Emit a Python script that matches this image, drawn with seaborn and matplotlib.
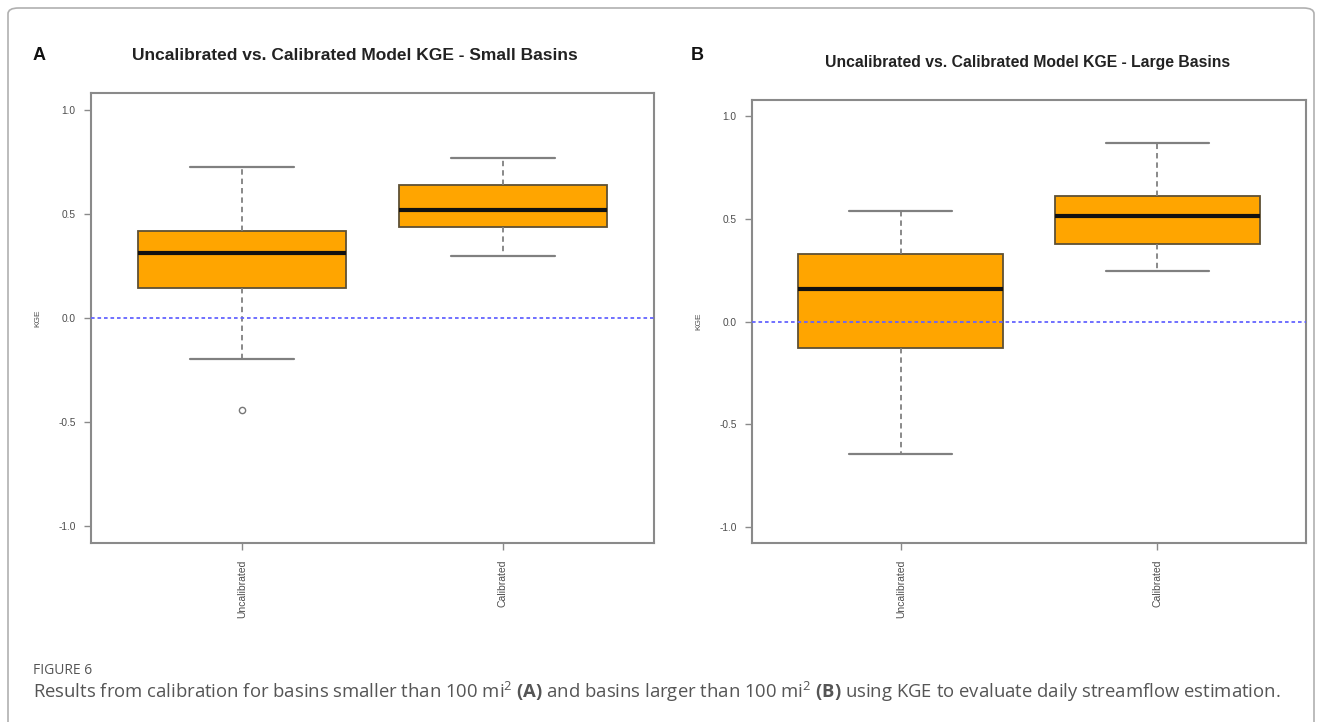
import numpy as np
import pandas as pd
import seaborn as sns
import matplotlib.pyplot as plt
from matplotlib.patches import FancyBboxPatch

# ---- data -----------------------------------------------------------------
groups = ["Uncalibrated", "Calibrated"]

# five-number summaries: lower whisker, Q1, median, Q3, upper whisker
small_uncal = [-0.199, 0.143, 0.311, 0.418, 0.727]
small_cal = [0.298, 0.436, 0.519, 0.639, 0.768]
small_outliers = [-0.442]          # Uncalibrated, small basins

large_uncal = [-0.647, -0.129, 0.160, 0.328, 0.538]
large_cal = [0.244, 0.380, 0.513, 0.613, 0.872]
large_outliers = []

yticks = [-1.0, -0.5, 0.0, 0.5, 1.0]
ytick_labels = ["-1.0", "-0.5", "0.0", "0.5", "1.0"]

titles = ["Uncalibrated vs. Calibrated Model KGE - Small Basins",
          "Uncalibrated vs. Calibrated Model KGE - Large Basins"]
panel_letters = ["A", "B"]

# ---- style ----------------------------------------------------------------
sns.set_theme(style="white")
plt.rcParams["font.family"] = ["Liberation Sans", "DejaVu Sans"]
plt.rcParams["mathtext.fontset"] = "custom"
plt.rcParams["mathtext.rm"] = "Open Sans"
plt.rcParams["mathtext.bf"] = "Open Sans:bold"

ORANGE = "#FFA500"
GRID_GRAY = "#8a8a8a"
TEXT_GRAY = "#4d4d4d"

W, H = 1322, 722
fig = plt.figure(figsize=(W / 100, H / 100), dpi=100)


def frac_box(left, top, right, bottom):
    return [left / W, 1 - bottom / H, (right - left) / W, (bottom - top) / H]


def long_frame(uncal, cal):
    return pd.DataFrame({
        "group": [groups[0]] * len(uncal) + [groups[1]] * len(cal),
        "KGE": list(uncal) + list(cal),
    })


def draw_panel(ax, uncal, cal, outliers, title, title_x, title_y, title_size):
    df = long_frame(uncal, cal)
    sns.boxplot(
        data=df, x="group", y="KGE", order=groups, ax=ax,
        color=ORANGE, saturation=1, width=0.8, whis=(0, 100),
        showfliers=False, linecolor="#5a5040", linewidth=1.2,
        boxprops=dict(facecolor=ORANGE, edgecolor="#5e5035", linewidth=1.3),
        medianprops=dict(color="#111111", linewidth=3),
        whiskerprops=dict(color="#808080", linestyle=(0, (3, 2.2)), linewidth=1.3),
        capprops=dict(color="#808080", linewidth=1.6),
    )
    if outliers:
        out_df = pd.DataFrame({"group": [groups[0]] * len(outliers), "KGE": outliers})
        sns.stripplot(data=out_df, x="group", y="KGE", order=groups, ax=ax,
                      jitter=False, color="white", edgecolor="#777777",
                      linewidth=1.0, size=4.5, zorder=4)

    ax.axhline(0.0, color="#6464ff", linestyle=(0, (2, 1.6)), linewidth=1.3, zorder=5)

    ax.set_xlim(-0.58, 1.58)
    ax.set_ylim(-1.08, 1.08)
    ax.set_yticks(yticks)
    ax.set_yticklabels(ytick_labels)
    ax.set_xticks([0, 1])
    ax.set_xticklabels(groups, rotation=90)
    ax.set_xlabel("")
    ax.set_ylabel("KGE", fontsize=6, color=TEXT_GRAY, labelpad=12)
    ax.tick_params(axis="both", which="major", direction="out", length=5,
                   width=1.0, color=GRID_GRAY, labelsize=7.3,
                   labelcolor=TEXT_GRAY, pad=6)
    ax.tick_params(axis="x", bottom=True, labelsize=7.5, pad=7)
    ax.tick_params(axis="y", left=True)
    for s in ax.spines.values():
        s.set_visible(True)
        s.set_color(GRID_GRAY)
        s.set_linewidth(1.5)

    fig.text(title_x / W, 1 - title_y / H, title, ha="center", va="center",
             fontsize=title_size, fontweight="bold", color="#222222")


ax_a = fig.add_axes(frac_box(91, 93, 654, 543))
draw_panel(ax_a, small_uncal, small_cal, small_outliers, titles[0], 355, 55, 12.5)

ax_b = fig.add_axes(frac_box(752, 100, 1306, 543))
draw_panel(ax_b, large_uncal, large_cal, large_outliers, titles[1], 1028, 62, 11.3)

# panel letters
fig.text(33 / W, 1 - 55 / H, panel_letters[0], ha="left", va="center", fontsize=13,
         fontweight="bold", color="#111111")
fig.text(691 / W, 1 - 55 / H, panel_letters[1], ha="left", va="center", fontsize=13,
         fontweight="bold", color="#111111")

# caption
fig.text(33 / W, 1 - 670 / H, "FIGURE 6", ha="left", va="center", fontsize=10,
         color="#555555", family=["Open Sans", "DejaVu Sans"])
caption = (r"Results from calibration for basins smaller than 100 mi$^{\mathregular{2}}$ "
           r"$\mathbf{(A)}$ and basins larger than 100 mi$^{\mathregular{2}}$ "
           r"$\mathbf{(B)}$ using KGE to evaluate daily streamflow estimation.")
fig.text(33 / W, 1 - 692 / H, caption, ha="left", va="center", fontsize=13.3,
         color="#555555", family=["Open Sans", "DejaVu Sans"])

# outer rounded frame
frame = FancyBboxPatch((8 / W, -0.05), (1314 / W) - (8 / W), (1 - 8 / H) + 0.05,
                       boxstyle="round,pad=0,rounding_size=0.008",
                       transform=fig.transFigure, fill=False,
                       edgecolor="#b0b0b0", linewidth=1.2)
fig.patches.append(frame)

fig.savefig("out.png", dpi=100)
